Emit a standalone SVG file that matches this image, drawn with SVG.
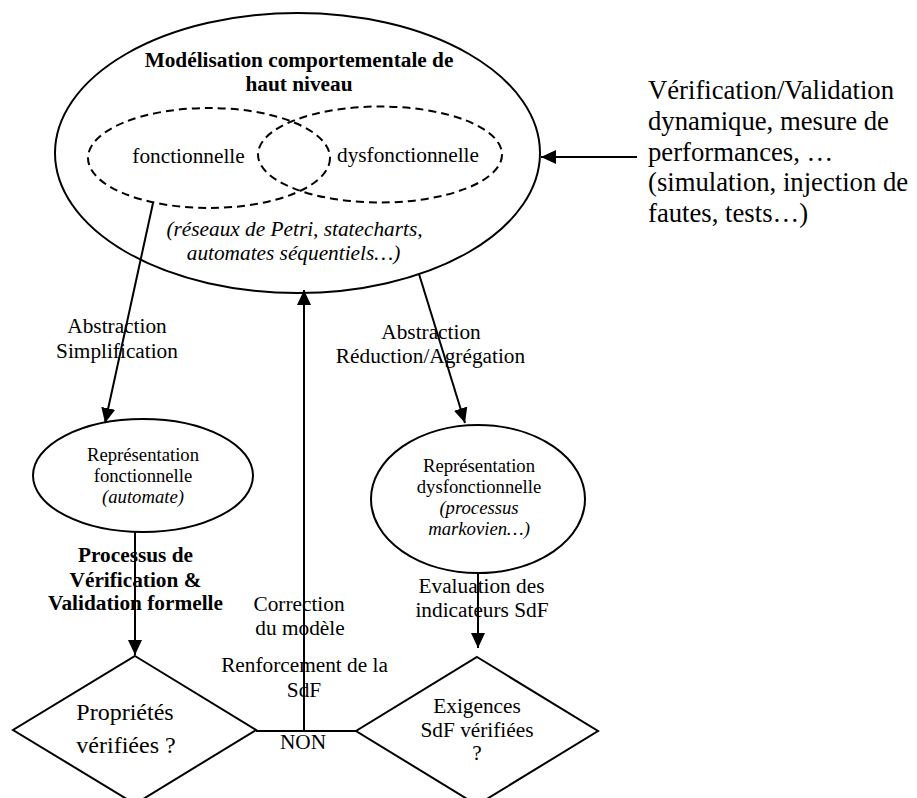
<svg xmlns="http://www.w3.org/2000/svg" width="917" height="798" viewBox="0 0 917 798">
<defs>
<style>
text{font-family:"Liberation Serif","Times New Roman",serif;fill:#000}
.c{text-anchor:middle}
.b{font-weight:bold}
.i{font-style:italic}
.s16{font-size:21.3px}
.s14{font-size:18.7px}
.s18{font-size:24px}
.s20{font-size:26.7px}
.shape{fill:#fff;stroke:#000;stroke-width:2}
.dash{fill:none;stroke:#000;stroke-width:2;stroke-dasharray:8,5}
.edge{fill:none;stroke:#000;stroke-width:2}
</style>
<marker id="ah" markerWidth="16" markerHeight="14" refX="15" refY="7" orient="auto" markerUnits="userSpaceOnUse">
<path d="M0,0 L15,7 L0,14 z" fill="#000"/>
</marker>
</defs>
<rect width="917" height="798" fill="#fff"/>

<g id="modele">
<ellipse cx="297.5" cy="153" rx="242.5" ry="140" class="shape" stroke-width="2.5"/>
<text x="299" y="67" class="c b s16">Modélisation comportementale de</text>
<text x="299" y="91" class="c b s16">haut niveau</text>
<ellipse cx="209" cy="158" rx="121" ry="50" class="dash"/>
<ellipse cx="380" cy="154.5" rx="122" ry="48" class="dash"/>
<text x="188.5" y="163" class="c s16">fonctionnelle</text>
<text x="408" y="162" class="c s16">dysfonctionnelle</text>
<text x="294.5" y="236" class="c i s16">(réseaux de Petri, statecharts,</text>
<text x="293.5" y="260" class="c i s16">automates séquentiels…)</text>
</g>

<g id="verif-dynamique">
<text x="648" y="99" class="s20">Vérification/Validation</text>
<text x="648" y="130" class="s20">dynamique, mesure de</text>
<text x="648" y="161" class="s20">performances, …</text>
<text x="648" y="191" class="s20">(simulation, injection de</text>
<text x="648" y="222" class="s20">fautes, tests…)</text>
</g>

<g id="rep-fonctionnelle">
<ellipse cx="143" cy="475.5" rx="110" ry="56.5" class="shape"/>
<text x="143" y="461" class="c s14">Représentation</text>
<text x="143" y="482" class="c s14">fonctionnelle</text>
<text x="143" y="503" class="c i s14">(automate)</text>
</g>

<g id="rep-dysfonctionnelle">
<ellipse cx="478" cy="499" rx="107" ry="74" class="shape"/>
<text x="479" y="472" class="c s14">Représentation</text>
<text x="479" y="493" class="c s14">dysfonctionnelle</text>
<text x="479" y="514" class="c i s14">(processus</text>
<text x="479" y="535" class="c i s14">markovien…)</text>
</g>

<g id="proprietes">
<polygon points="135,656 256,730 135,804 13,730" class="shape"/>
<text x="125" y="720" class="c s18">Propriétés</text>
<text x="126" y="753" class="c s18">vérifiées ?</text>
</g>

<g id="exigences">
<polygon points="477,657 598,731 477,805 356,731" class="shape"/>
<text x="477" y="713" class="c s16">Exigences</text>
<text x="477" y="737" class="c s16">SdF vérifiées</text>
<text x="477" y="760" class="c s16">?</text>
</g>

<g id="connectors">
<line x1="637" y1="157" x2="541" y2="157" class="edge" marker-end="url(#ah)"/>
<line x1="153" y1="203" x2="105" y2="423" class="edge" marker-end="url(#ah)"/>
<line x1="419" y1="274" x2="465" y2="423" class="edge" marker-end="url(#ah)"/>
<line x1="135" y1="532" x2="135" y2="655" class="edge" marker-end="url(#ah)"/>
<line x1="478" y1="573" x2="478" y2="648" class="edge" marker-end="url(#ah)"/>
<polyline points="256,731 356,731" class="edge"/>
<line x1="304" y1="731" x2="304" y2="290" class="edge" marker-end="url(#ah)"/>
</g>

<g id="labels">
<text x="117" y="333" class="c s16">Abstraction</text>
<text x="117" y="358" class="c s16">Simplification</text>
<text x="431" y="339" class="c s16">Abstraction</text>
<text x="430.5" y="363" class="c s16">Réduction/Agrégation</text>
<text x="135.5" y="562" class="c b s16">Processus de</text>
<text x="135.5" y="587" class="c b s16">Vérification &amp;</text>
<text x="135.5" y="610" class="c b s16">Validation formelle</text>
<text x="299" y="611" class="c s16">Correction</text>
<text x="300" y="635" class="c s16">du modèle</text>
<text x="304.5" y="672" class="c s16">Renforcement de la</text>
<text x="304" y="697" class="c s16">SdF</text>
<text x="303" y="749" class="c s16">NON</text>
<text x="481.5" y="593" class="c s16">Evaluation des</text>
<text x="482" y="617" class="c s16">indicateurs SdF</text>
</g>
</svg>
